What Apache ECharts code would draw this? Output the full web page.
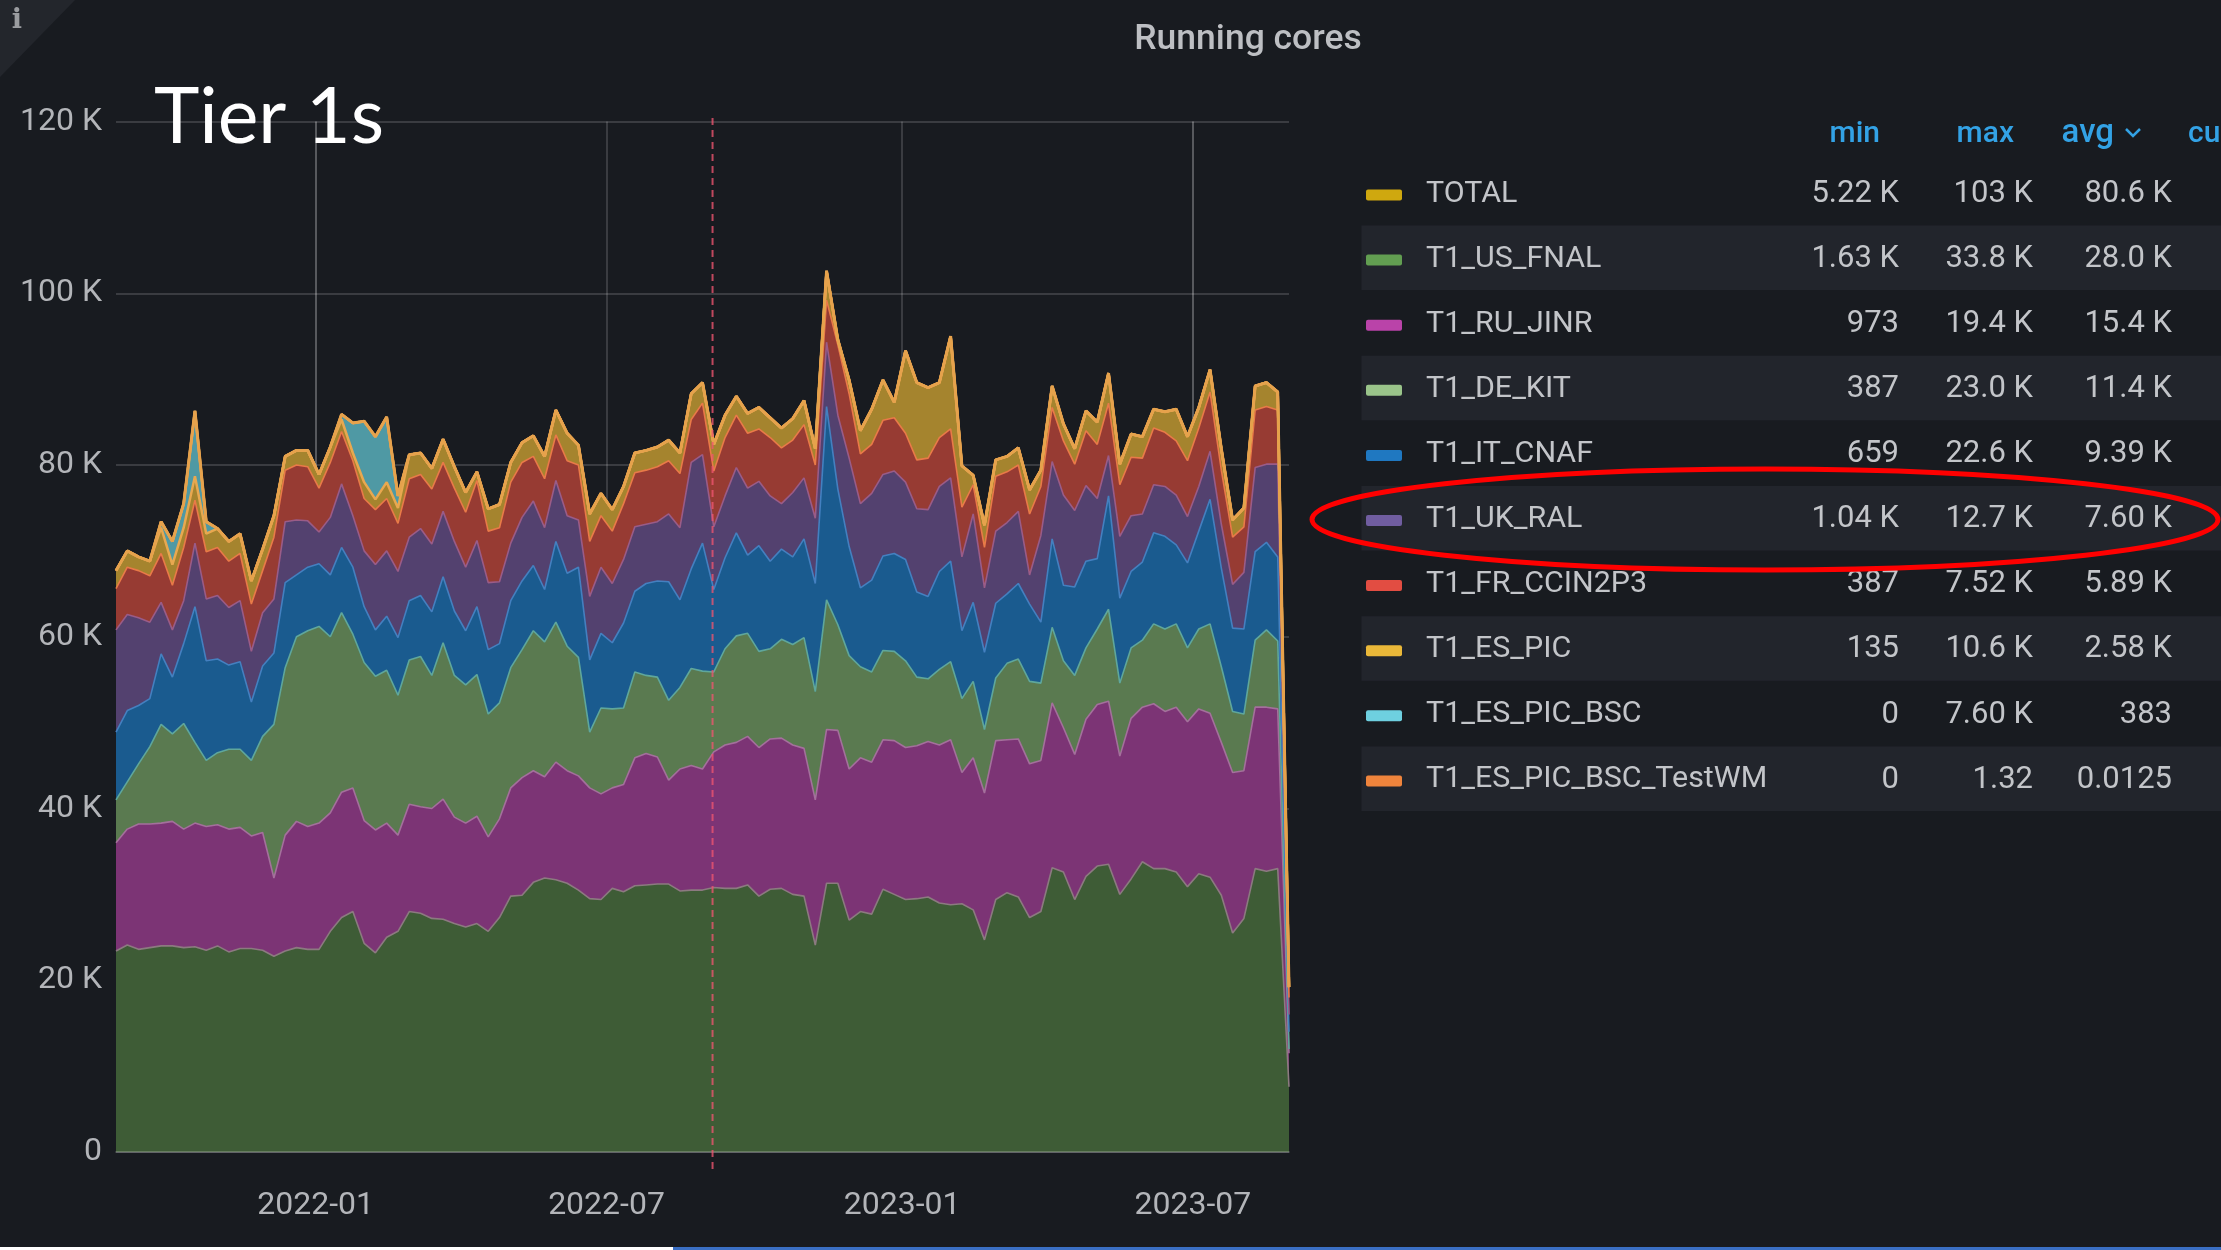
<!DOCTYPE html>
<html>
<head>
<meta charset="utf-8">
<title>Running cores</title>
<script src="https://cdn.jsdelivr.net/npm/echarts@6/dist/echarts.min.js"></script>
<style>html,body{margin:0;padding:0;background:#181b20;overflow:hidden}#c{width:2221px;height:1250px}</style>
</head>
<body>
<div id="c"></div>
<script>
// Upper edge of each stacked layer, in thousands of cores (105 weekly samples)
const FNAL_top = [23.4,24.1,23.6,23.8,24.0,24.0,23.8,23.9,23.5,24.0,23.3,23.7,23.7,23.5,22.8,23.4,23.8,23.6,23.6,25.7,27.3,28.0,24.3,23.2,25.0,25.7,28.0,
27.8,27.2,27.1,26.6,26.2,26.6,25.7,27.3,29.8,29.9,31.4,31.9,31.7,31.3,30.5,29.5,29.4,30.7,30.3,31.0,31.1,31.2,31.2,30.4,30.5,30.5,
30.8,30.7,30.7,31.1,29.8,30.6,30.7,30.0,29.8,24.1,31.3,31.3,27.0,28.0,27.7,30.6,30.0,29.4,29.5,29.7,29.0,28.8,28.9,28.2,
24.7,29.4,30.2,29.7,27.3,28.0,33.1,32.6,29.4,32.1,33.3,33.5,30.0,31.8,33.8,33.0,33.0,32.6,30.9,32.4,32.0,29.9,25.5,27.2,33.0,32.7,33.0,7.6];
const JINR_top = [36.0,37.6,38.2,38.2,38.3,38.5,37.6,38.3,37.9,38.1,37.6,37.8,36.8,37.2,31.9,36.9,38.5,37.9,38.3,39.5,41.9,42.4,38.6,37.5,38.3,36.9,40.5,
40.2,40.0,41.1,39.0,38.3,39.1,36.7,38.8,42.4,43.6,44.4,43.7,45.4,44.4,43.8,42.4,41.7,42.4,42.8,45.9,46.4,46.0,43.3,44.6,45.0,44.6,
46.6,47.4,47.7,48.4,47.1,48.1,48.2,47.4,47.0,41.0,49.2,49.1,44.6,45.9,45.4,48.0,47.9,47.1,47.3,47.8,47.4,48.0,44.2,45.9,
41.8,47.9,48.0,48.1,45.2,45.6,52.3,49.4,46.3,50.4,52.1,52.5,46.1,50.5,51.8,52.2,51.3,51.8,50.1,51.6,51.1,47.7,44.2,44.4,51.8,51.8,51.6,11.5];
const KIT_top = [41.0,43.1,45.2,47.2,49.8,48.7,49.9,47.7,45.6,46.5,46.9,46.9,45.6,48.4,49.8,56.4,60.0,60.7,61.2,60.0,62.8,60.3,57.0,55.4,56.1,53.2,57.3,
57.7,55.5,59.3,55.5,54.4,55.6,51.0,52.3,56.4,58.5,60.7,59.4,61.7,58.9,57.6,48.9,51.7,51.6,51.7,55.9,55.5,55.3,52.6,54.1,56.3,56.0,
55.9,58.6,60.1,60.4,58.3,58.6,59.7,59.1,59.9,53.6,64.3,61.4,57.8,56.5,55.9,58.4,58.3,57.2,55.3,55.1,56.2,57.1,52.8,54.8,
49.2,55.2,56.9,57.4,54.8,54.6,61.1,57.2,55.5,58.7,60.9,63.2,54.6,58.7,59.6,61.5,60.9,61.5,58.7,60.9,61.5,56.5,51.3,51.0,59.6,60.8,59.5,12.0];
const CNAF_top = [48.9,51.4,52.0,52.8,58.0,55.3,59.2,63.5,57.2,57.4,56.7,57.1,52.4,56.6,58.1,66.3,67.2,68.1,68.5,67.2,70.4,68.1,63.5,60.8,62.4,59.9,64.2,
64.8,62.9,67.0,63.0,60.7,63.5,58.5,59.2,64.2,66.5,68.3,65.5,71.1,67.4,68.1,57.3,60.4,59.3,61.6,65.3,66.2,66.5,66.4,64.3,67.9,70.9,
65.5,69.2,72.1,69.5,70.6,68.8,70.2,69.3,71.4,66.2,86.8,77.2,70.5,65.7,66.6,69.4,69.7,69.0,65.2,64.7,67.6,68.8,60.7,64.0,
58.2,63.9,65.0,66.2,63.8,61.7,71.4,66.0,65.8,68.8,69.1,76.4,64.5,67.6,68.7,72.1,71.7,70.7,68.6,72.3,76.0,68.0,61.0,60.9,69.9,71.0,69.3,14.0];
const RAL_top = [60.8,62.6,62.2,61.7,64.0,60.8,64.2,70.9,64.4,64.8,63.4,64.2,58.3,62.8,64.4,73.4,73.6,73.5,72.2,73.9,77.8,74.1,70.0,68.4,70.0,67.6,71.6,
72.6,70.8,74.6,71.1,68.1,71.2,66.3,66.4,70.9,73.9,75.8,72.7,78.2,74.1,73.6,64.7,68.1,66.2,69.0,72.8,73.1,73.4,74.3,72.7,80.3,81.2,
72.8,76.4,79.7,77.3,78.1,76.4,75.5,76.8,78.5,73.8,94.3,85.8,80.8,75.5,76.7,78.9,79.3,78.0,74.9,74.8,77.5,78.5,69.3,74.3,
65.7,72.3,73.3,74.6,67.2,71.8,80.4,76.5,74.7,77.6,76.1,81.1,71.7,74.1,74.3,77.7,77.5,76.5,74.0,77.5,81.6,73.1,66.1,67.5,79.7,80.1,80.1,16.0];
const FR_top = [65.6,68.1,67.7,67.1,69.7,66.0,70.4,75.9,69.9,70.4,68.8,69.7,63.8,67.7,71.6,79.4,80.0,79.8,77.3,80.3,83.9,80.5,76.1,74.8,76.1,73.2,78.4,
78.9,77.2,80.3,77.3,74.5,78.2,72.3,72.7,78.0,80.3,81.0,78.4,83.5,80.5,80.0,71.1,74.1,72.3,75.5,79.1,79.4,79.8,80.5,79.0,85.3,87.2,
79.3,83.2,85.8,83.7,84.2,83.2,82.0,82.9,84.7,80.0,99.2,94.0,88.3,81.3,82.4,85.2,85.5,83.7,80.6,80.8,83.2,84.2,75.1,77.7,
70.4,78.7,79.2,80.0,74.3,77.5,86.7,82.8,80.1,84.0,82.4,87.2,77.7,80.9,80.8,84.3,83.8,82.8,80.5,84.3,88.5,79.4,71.6,72.8,86.4,86.8,86.4,18.0];
const PIC_top = [67.7,70.0,69.3,68.8,72.7,68.4,72.7,78.7,72.0,72.6,71.1,72.0,66.5,70.2,74.1,81.0,81.7,81.7,78.9,82.1,85.3,81.4,78.0,76.0,78.0,75.0,81.2,
81.4,79.6,83.0,79.8,76.8,79.2,74.9,75.4,80.3,82.6,83.4,81.0,86.4,83.7,82.3,74.3,76.7,74.8,77.5,81.4,81.7,82.1,82.9,81.4,88.3,89.6,
82.4,85.8,88.0,86.0,86.7,85.5,84.3,85.4,87.5,81.9,102.6,94.6,89.9,84.0,86.5,89.9,87.3,93.3,89.6,89.0,89.6,95.0,79.9,78.8,
73.0,80.6,81.0,82.0,77.1,79.4,89.2,84.8,81.9,86.3,85.0,90.7,80.1,83.6,83.3,86.5,86.2,86.5,83.3,86.7,91.1,81.9,73.6,75.0,89.2,89.6,88.5,19.2];
const BSC_values = [0,0,0,0,0.7,2.7,2.8,7.6,1.4,0, 0,0,0,0,0,0,0,0,0,0, 0.6,3.5,7.1,7.3,7.6,1.4,0,0,0,0,
0,0,0,0,0,0,0,0,0,0, 0,0,0,0,0,0,0,0,0,0, 0,0,0,0,0,0,0,0,0,0, 0,0,0,0,0,0,0,0,0,0,
0,0,0,0,0,0,0,0,0,0, 0,0,0,0,0,0,0,0,0,0, 0,0,0,0,0,0,0,0,0,0, 0,0,0,0,0];
const TestWM_values = [0,0,0,0,0,0,0,0,0,0, 0,0,0,0,0,0,0,0,0,0, 0,0,0,0,0,0,0,0,0,0,
0,0,0,0,0,0,0,0,0,0, 0,0,0,0,0,0,0,0,0,0, 0,0,0,0,0,0,0,0,0,0, 0,0,0,0,0,0,0,0,0,0,
0,0,0,0,0,0,0,0,0,0, 0,0,0,0,0,0,0,0,0,0, 0,0,0,0,0,0,0,0,0,0, 0,0,0,0,0];

// Time axis
const firstSample = '2021-08-29T17:00:00';
const sampleStepDays = 7.02;
const xTickLabels = ['2022-01', '2022-07', '2023-01', '2023-07'];
const annotationDate = '2022-09-05T00:00:00';

// Legend table
const legendNames = ['TOTAL','T1_US_FNAL','T1_RU_JINR','T1_DE_KIT','T1_IT_CNAF','T1_UK_RAL','T1_FR_CCIN2P3','T1_ES_PIC','T1_ES_PIC_BSC','T1_ES_PIC_BSC_TestWM'];
const legendMin = ['5.22 K','1.63 K','973','387','659','1.04 K','387','135','0','0'];
const legendMax = ['103 K','33.8 K','19.4 K','23.0 K','22.6 K','12.7 K','7.52 K','10.6 K','7.60 K','1.32'];
const legendAvg = ['80.6 K','28.0 K','15.4 K','11.4 K','9.39 K','7.60 K','5.89 K','2.58 K','383','0.0125'];
const legendSwatch = ['#CFA80F','#629E51','#BA43A9','#9AC48A','#1F78C1','#705DA0','#E24D42','#EAB839','#6ED0E0','#EF843C'];

// Fills and strokes of the stacked layers, bottom to top
const areaFill = ['#3e5c36','#7c3475','#5a7a50','#1a5b8f','#53416f','#973b33','#a5842e','#4f99a4','#a5842e'];
const areaLine = ['#8c7a80','#a4709c','#5fa79c','#4480c0','#9a5c88','#e97a48','#e8a850','#e8c070','#ef9a4c'];

const msDay = 86400000;
const t0 = +new Date(firstSample);
const times = FNAL_top.map((_, i) => t0 + i * sampleStepDays * msDay);
const tickValues = xTickLabels.map(s => +new Date(s + '-01T00:00:00'));
const diff = (a, b) => a.map((v, i) => Math.max(+(v - b[i]).toFixed(2), 0));
const stackTops = [FNAL_top, JINR_top, KIT_top, CNAF_top, RAL_top, FR_top, PIC_top];
const layers = [FNAL_top];
for (let k = 1; k < stackTops.length; k++) layers.push(diff(stackTops[k], stackTops[k - 1]));
layers.push(BSC_values, TestWM_values);
const TOTAL_values = PIC_top.map((v, i) => +(v + BSC_values[i] + TestWM_values[i]).toFixed(2));
const pair = arr => arr.map((v, i) => [times[i], v]);

const series = layers.map((vals, k) => ({
  name: legendNames[k + 1],
  type: 'line',
  stack: 'cores',
  symbol: 'none',
  data: pair(vals),
  lineStyle: { color: areaLine[k], width: k >= 6 ? 2.5 : 1.6 },
  itemStyle: { color: legendSwatch[k + 1] },
  areaStyle: { color: areaFill[k], opacity: 1 }
}));
series.push({
  name: legendNames[0],
  type: 'line',
  symbol: 'none',
  data: pair(TOTAL_values),
  lineStyle: { color: '#e6a24c', width: 3 },
  itemStyle: { color: legendSwatch[0] }
});

const ROW_H = 65.1, ROW_Y0 = 194;
const txt = (x, y, text, fill, size, align, weight, z) => ({
  type: 'text', z: z || 10,
  style: { x, y, text, fill, fontSize: size, fontFamily: 'Roboto', fontWeight: weight || 400,
           align: align || 'left', textAlign: align || 'left', verticalAlign: 'middle', textVerticalAlign: 'middle' }
});
const rect = (x, y, w, h, fill, r) => ({ type: 'rect', z: 5, shape: { x, y, width: w, height: h, r: r || 0 }, style: { fill } });

const graphics = [];
// corner info tag
graphics.push({ type: 'polygon', z: 5, shape: { points: [[0, 0], [75, 0], [0, 77]] }, style: { fill: '#23262c' } });
graphics.push({ type: 'text', z: 10, style: { x: 17, y: 21, text: 'i', fill: '#9a9ca0', fontSize: 27, fontFamily: 'DejaVu Serif', fontWeight: 700, align: 'center', textAlign: 'center', verticalAlign: 'middle', textVerticalAlign: 'middle' } });
// title and slide label
graphics.push(txt(1248, 40, 'Running cores', '#bdbfc3', 35.5, 'center', 500));
graphics.push({ type: 'text', z: 20, style: { x: 154, y: 118, text: 'Tier 1s', fill: '#ffffff', fontSize: 77, fontFamily: 'Lato', fontWeight: 400, align: 'left', textAlign: 'left', verticalAlign: 'middle', textVerticalAlign: 'middle' } });
// legend header
const HEAD = '#33a2e5';
graphics.push(txt(1880, 134, 'min', HEAD, 30, 'right', 500));
graphics.push(txt(2014, 134, 'max', HEAD, 30, 'right', 500));
graphics.push(txt(2114, 134, 'avg', HEAD, 33, 'right', 500));
graphics.push(txt(2188, 134, 'cu', HEAD, 30, 'left', 500));
graphics.push({ type: 'polyline', z: 10, shape: { points: [[2126, 129], [2133, 136], [2140, 129]] }, style: { stroke: HEAD, lineWidth: 2.5, fill: 'none' } });
// legend rows
legendNames.forEach((name, i) => {
  const y = ROW_Y0 + ROW_H * i;
  if (i % 2 === 1) graphics.push(rect(1361.5, y - 33.5, 860, 64.5, '#22252c'));
  graphics.push(rect(1366, y - 4.5, 36, 11, legendSwatch[i], 2));
  graphics.push(txt(1426, y, name, '#c3c5c9', 30.4));
  graphics.push(txt(1899, y, legendMin[i], '#c3c5c9', 31, 'right'));
  graphics.push(txt(2033, y, legendMax[i], '#c3c5c9', 31, 'right'));
  graphics.push(txt(2172, y, legendAvg[i], '#c3c5c9', 31, 'right'));
});
// red hand-drawn highlight around T1_UK_RAL
graphics.push({ type: 'ellipse', z: 15, shape: { cx: 1765, cy: 519.5, rx: 453, ry: 50.5 }, style: { stroke: '#ff0000', lineWidth: 5, fill: 'none' } });
// slide progress strip along the bottom
graphics.push(rect(0, 1247, 673, 3, '#ffffff'));
graphics.push(rect(673, 1247, 1548, 3, '#3a6fc4'));

const GRID = 'rgba(255,255,255,0.2)';
const chart = echarts.init(document.getElementById('c'), null, { renderer: 'canvas', width: 2221, height: 1250 });
chart.setOption({
  animation: false,
  backgroundColor: '#181b20',
  textStyle: { fontFamily: 'Roboto' },
  grid: { left: 116, right: 932, top: 121.5, bottom: 98, containLabel: false },
  xAxis: {
    type: 'time',
    z: 3,
    min: times[0],
    max: times[times.length - 1],
    axisLine: { show: true, onZero: false, lineStyle: { color: 'rgba(255,255,255,0.28)', width: 1.5 } },
    axisTick: { show: false, customValues: tickValues },
    splitLine: { show: true, lineStyle: { color: GRID, width: 1.5 } },
    axisLabel: {
      color: '#b3b5b9', fontSize: 32, fontFamily: 'Roboto', margin: 38, hideOverlap: false,
      customValues: tickValues,
      formatter: '{yyyy}-{MM}'
    }
  },
  yAxis: {
    type: 'value',
    z: 3,
    min: 0,
    max: 120,
    interval: 20,
    axisLine: { show: false },
    axisTick: { show: false },
    splitLine: { show: true, lineStyle: { color: GRID, width: 1.5 } },
    axisLabel: {
      color: '#b3b5b9', fontSize: 32, fontFamily: 'Roboto', margin: 14,
      formatter: v => (v === 0 ? '0' : v + ' K')
    }
  },
  series,
  graphic: { elements: graphics }
});

// Dashed annotation: its position comes from the chart's own time scale; it overshoots the plot at both ends
const annX = chart.convertToPixel({ gridIndex: 0 }, [+new Date(annotationDate), 0])[0];
const annTop = chart.convertToPixel({ gridIndex: 0 }, [+new Date(annotationDate), 120.4])[1];
const annBottom = chart.convertToPixel({ gridIndex: 0 }, [+new Date(annotationDate), -2.4])[1];
chart.setOption({
  graphic: { elements: graphics.concat([{
    type: 'line', z: 8, silent: true,
    shape: { x1: annX, y1: annTop, x2: annX, y2: annBottom },
    style: { stroke: 'rgba(238,84,112,0.78)', lineWidth: 2, lineDash: [7, 5] }
  }]) }
});
</script>
</body>
</html>
